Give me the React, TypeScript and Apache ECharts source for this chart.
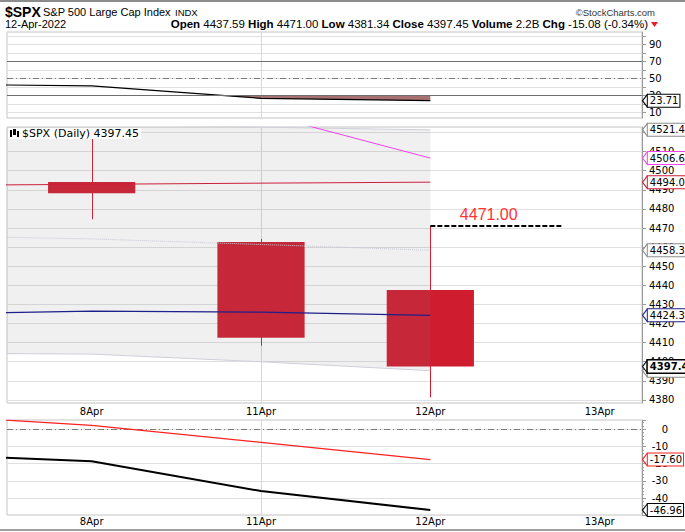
import React, { useEffect, useRef } from 'react';
import * as echarts from 'echarts';

const AXIS_FONT = 'DejaVu Sans';
const HEAD_FONT = 'Liberation Sans';

// sessions on the time axis
const dates = ['8Apr', '11Apr', '12Apr', '13Apr'];
// session index of each overlay point (-1 = 7 Apr, just left of the window)
const overlayIdx = [-1, 0, 1, 2];
// candle sessions and [open, close, low, high]
const candleIdx = [0, 1, 2];
const ohlc = [
  [4494.15, 4488.28, 4474.6, 4520.41],
  [4462.64, 4412.53, 4408.38, 4464.35],
  [4437.59, 4397.45, 4381.34, 4471.0],
];
const sma10 = [4551.8, 4546.32, 4530.03, 4506.61];
const sma200 = [4492.3, 4492.9, 4493.5, 4494.02];
const sma50 = [4425.0, 4426.5, 4426.0, 4424.32];
const bandUpper = [4527.5, 4524.6, 4522.8, 4521.41];
const bandMid = [4466.0, 4464.3, 4461.4, 4458.37];
const bandLower = [4404.5, 4404.0, 4400.0, 4395.33];
const rsi = [43.2, 41.0, 26.5, 23.71];
const rsiUpper = 70;
const rsiMid = 50;
const rsiLower = 30;
const oscRed = [8.4, 2.3, -7.6, -17.6];
const oscBlack = [-14.4, -18.6, -35.9, -46.96];
const highMark = 4471.0;
const highMarkText = '4471.00';

const X_MIN = -0.5;
const X_MAX = 3.25;
const RED = '#d01c2f';

const pairs = (ys: number[]) => overlayIdx.map((x, i) => [x, ys[i]]);

const isMult = (v: number, m: number, off = 0) => {
  const r = Math.round(v);
  if (Math.abs(v - r) > 1e-6) return false;
  return (((r - off) % m) + m) % m === 0;
};

const xAxis = (gridIndex: number, show: boolean, margin: number) => ({
  type: 'value',
  gridIndex,
  min: X_MIN,
  max: X_MAX,
  axisLine: { show: false, onZero: false },
  axisTick: { show: false },
  splitLine: { show: false },
  axisLabel: {
    show,
    margin,
    color: '#000',
    fontFamily: AXIS_FONT,
    fontSize: 10,
    showMinLabel: false,
    showMaxLabel: false,
    formatter: (v: number) => {
      const i = Math.round(v);
      return Math.abs(v - i) < 1e-6 && i >= 0 && i < dates.length ? dates[i] : '';
    },
  },
});

const yAxis = (
  gridIndex: number,
  min: number,
  max: number,
  splitNumber: number,
  fmt: (v: number) => string,
  extra: any = {}
) => ({
  type: 'value',
  gridIndex,
  position: 'right',
  min,
  max,
  splitNumber,
  axisLine: { show: true, onZero: false, lineStyle: { color: '#9a9a9a' } },
  axisTick: { show: true, length: 4, lineStyle: { color: '#9a9a9a' } },
  splitLine: { show: true, lineStyle: { color: '#e0e0e0' } },
  axisLabel: {
    margin: 7,
    color: '#000',
    fontFamily: AXIS_FONT,
    fontSize: 10,
    showMinLabel: false,
    showMaxLabel: false,
    formatter: fmt,
    ...(extra.axisLabel || {}),
  },
  ...(extra.rest || {}),
});

const CHEVRON = 'path://M5,0 L0,6.5 L5,13';
const tag = (x: number, v: number, text: string, border: string, bold = false) => ({
  coord: [x, v],
  symbol: CHEVRON,
  symbolSize: [5, 13],
  symbolOffset: [3, 0],
  itemStyle: { color: '#fff', borderColor: border, borderWidth: 1 },
  label: {
    show: true,
    position: 'right',
    distance: 0,
    formatter: text,
    color: '#000',
    fontFamily: AXIS_FONT,
    fontSize: 10,
    fontWeight: bold ? 'bold' : 'normal',
    backgroundColor: '#fff',
    borderColor: border,
    borderWidth: bold ? 1.5 : 1,
    padding: [1, 1, 0, 2],
    lineHeight: 11,
  },
});

const vLine = (z: number) => ({
  silent: true,
  symbol: ['none', 'none'],
  z,
  label: { show: false },
  lineStyle: { color: '#d8d8d8', width: 1, type: 'solid' },
  data: [{ xAxis: 1 }],
});

function buildOption(): any {
  const lineS = (xi: number, ys: number[], color: string, width = 1, type: any = 'solid', extra: any = {}) => ({
    type: 'line',
    xAxisIndex: xi,
    yAxisIndex: xi,
    data: pairs(ys),
    symbol: 'none',
    silent: true,
    clip: true,
    lineStyle: { color, width, type },
    z: 3,
    ...extra,
  });

  return {
    animation: false,
    backgroundColor: '#fff',
    grid: [
      { left: 7, right: 43, top: 32, height: 86, show: true, borderColor: '#c4c4c4', borderWidth: 1 },
      { left: 7, right: 43, top: 127, height: 276, show: true, borderColor: '#c4c4c4', borderWidth: 1 },
      { left: 7, right: 43, top: 420, height: 95, show: true, borderColor: '#c4c4c4', borderWidth: 1 },
    ],
    xAxis: [xAxis(0, false, 2), xAxis(1, true, 3), xAxis(2, true, 1)],
    yAxis: [
      yAxis(0, 3.3, 104.5, 10, (v) => (isMult(v, 20, 10) ? String(Math.round(v)) : '')),
      yAxis(1, 4378.4, 4522.9, 14, (v) => (isMult(v, 10) ? String(Math.round(v)) : '')),
      yAxis(2, -49.8, 5.4, 5, (v) => (isMult(v, 10) ? String(Math.round(v)) : ''), {
        axisLabel: { align: 'right', margin: 26 },
        rest: { minorTick: { show: true, splitNumber: 5, length: 2, lineStyle: { color: '#9a9a9a' } } },
      }),
    ],
    series: [
      // ---------- top panel ----------
      {
        type: 'custom',
        xAxisIndex: 0,
        yAxisIndex: 0,
        clip: true,
        silent: true,
        data: [[0, rsiLower]],
        encode: { x: 0, y: 1 },
        z: 2,
        renderItem: (params: any, api: any) => {
          if (params.dataIndex !== 0) return null;
          const lvl = rsiLower;
          const curve: number[][] = [];
          for (let i = 0; i < overlayIdx.length; i++) {
            if (i > 0) {
              const a = rsi[i - 1] - lvl;
              const b = rsi[i] - lvl;
              if (a * b < 0) {
                const t = a / (a - b);
                curve.push([overlayIdx[i - 1] + t * (overlayIdx[i] - overlayIdx[i - 1]), lvl]);
              }
            }
            curve.push([overlayIdx[i], Math.min(rsi[i], lvl)]);
          }
          const pts = curve.map((p) => api.coord(p));
          pts.push(api.coord([overlayIdx[overlayIdx.length - 1], lvl]));
          pts.push(api.coord([overlayIdx[0], lvl]));
          return { type: 'polygon', shape: { points: pts }, style: { fill: '#a87070' } };
        },
        markLine: vLine(1),
      },
      lineS(0, rsi, '#000', 1.2, 'solid', {
        markLine: {
          silent: true,
          symbol: ['none', 'none'],
          label: { show: false },
          data: [
            { yAxis: rsiUpper, lineStyle: { color: '#6e6e6e', width: 1, type: 'solid' } },
            { yAxis: rsiMid, lineStyle: { color: '#7a7a7a', width: 1, type: [6, 3, 1, 3] } },
            { yAxis: rsiLower, lineStyle: { color: '#6e6e6e', width: 1, type: 'solid' } },
          ],
        },
        markPoint: { silent: true, data: [tag(X_MAX, rsi[rsi.length - 1], rsi[rsi.length - 1].toFixed(2), '#000')] },
      }),

      // ---------- main panel ----------
      {
        type: 'custom',
        xAxisIndex: 1,
        yAxisIndex: 1,
        silent: true,
        clip: true,
        z: 2,
        data: candleIdx.map((x, i) => [x, ...ohlc[i]]),
        encode: { x: 0, y: [1, 2, 3, 4] },
        renderItem: (params: any, api: any) => {
          const x = api.value(0);
          const o = api.value(1);
          const c = api.value(2);
          const l = api.value(3);
          const h = api.value(4);
          const pO = api.coord([x, o]);
          const pC = api.coord([x, c]);
          const pL = api.coord([x, l]);
          const pH = api.coord([x, h]);
          const w = api.size([0.515, 0])[0];
          const cx = Math.round(pO[0]) + 0.5;
          return {
            type: 'group',
            children: [
              {
                type: 'line',
                shape: { x1: cx, y1: pH[1], x2: cx, y2: pL[1] },
                style: { stroke: RED, lineWidth: 1 },
              },
              {
                type: 'rect',
                shape: { x: pO[0] - w / 2, y: Math.min(pO[1], pC[1]), width: w, height: Math.abs(pC[1] - pO[1]) },
                style: { fill: RED },
              },
            ],
          };
        },
        markLine: vLine(1),
      },
      {
        type: 'custom',
        xAxisIndex: 1,
        yAxisIndex: 1,
        silent: true,
        clip: true,
        z: 2,
        data: [[0, bandMid[1]]],
        encode: { x: 0, y: 1 },
        renderItem: (params: any, api: any) => {
          if (params.dataIndex !== 0) return null;
          const pts: number[][] = [];
          for (let i = 0; i < overlayIdx.length; i++) pts.push(api.coord([overlayIdx[i], bandUpper[i]]));
          for (let i = overlayIdx.length - 1; i >= 0; i--) pts.push(api.coord([overlayIdx[i], bandLower[i]]));
          return { type: 'polygon', shape: { points: pts }, style: { fill: 'rgba(128,128,128,0.12)' } };
        },
      },
      lineS(1, bandUpper, '#cdd0d8', 1),
      lineS(1, bandLower, '#cdd0d8', 1),
      lineS(1, bandMid, '#c4c8d2', 1, 'dotted'),
      lineS(1, sma200, '#cc1f3c', 1),
      lineS(1, sma10, '#f040f0', 1),
      lineS(1, sma50, '#1f1f8c', 1.2, 'solid', {
        markLine: {
          silent: true,
          symbol: ['none', 'none'],
          label: { show: false },
          lineStyle: { color: '#000', width: 2, type: [5, 2] },
          data: [[{ coord: [2, highMark] }, { coord: [2.78, highMark] }]],
        },
        markPoint: {
          silent: true,
          data: [
            {
              coord: [2.345, highMark],
              symbol: 'circle',
              symbolSize: 1,
              itemStyle: { color: 'rgba(0,0,0,0)' },
              label: {
                show: true,
                position: 'top',
                distance: 3,
                formatter: highMarkText,
                color: '#ff3333',
                fontFamily: HEAD_FONT,
                fontSize: 16,
              },
            },
            tag(X_MAX, bandUpper[3], bandUpper[3].toFixed(2), '#8c8c8c'),
            tag(X_MAX, sma10[3], sma10[3].toFixed(2), '#f040f0'),
            tag(X_MAX, sma200[3], sma200[3].toFixed(2), '#cc1f3c'),
            tag(X_MAX, bandMid[3], bandMid[3].toFixed(2), '#8c8c8c'),
            tag(X_MAX, sma50[3], sma50[3].toFixed(2), '#1f1f8c'),
            tag(X_MAX, bandLower[3], bandLower[3].toFixed(2), '#8c8c8c'),
            tag(X_MAX, ohlc[2][1], ohlc[2][1].toFixed(2), '#000', true),
          ],
        },
      }),

      // ---------- bottom panel ----------
      lineS(2, oscRed, '#ff2020', 1.2, 'solid', {
        markLine: {
          silent: true,
          symbol: ['none', 'none'],
          label: { show: false },
          z: 1,
          data: [
            { xAxis: 1, lineStyle: { color: '#d8d8d8', width: 1, type: 'solid' } },
            { yAxis: 0, lineStyle: { color: '#7a7a7a', width: 1, type: [6, 3, 1, 3] } },
          ],
        },
      }),
      lineS(2, oscBlack, '#000', 2, 'solid', {
        markPoint: {
          silent: true,
          data: [
            tag(X_MAX, oscRed[3], oscRed[3].toFixed(2), '#ff2020'),
            tag(X_MAX, oscBlack[3], oscBlack[3].toFixed(2), '#000'),
          ],
        },
      }),
    ],
    graphic: [
      { type: 'rect', z: 100, shape: { x: 0, y: 0, width: 685, height: 2 }, style: { fill: '#8c8c8c' } },
      { type: 'rect', z: 100, shape: { x: 0, y: 529, width: 685, height: 2 }, style: { fill: '#a0a0a0' } },
      {
        type: 'text', z: 100, x: 5, y: 11.5,
        style: { text: '$SPX', fontFamily: HEAD_FONT, fontSize: 14, fontWeight: 'bold', fill: '#000', verticalAlign: 'middle' },
      },
      {
        type: 'text', z: 100, x: 43, y: 12,
        style: { text: 'S&P 500 Large Cap Index', fontFamily: HEAD_FONT, fontSize: 11, fill: '#000', verticalAlign: 'middle' },
      },
      {
        type: 'text', z: 100, x: 175, y: 12.5,
        style: { text: 'INDX', fontFamily: HEAD_FONT, fontSize: 9.5, fill: '#000', verticalAlign: 'middle' },
      },
      {
        type: 'text', z: 100, x: 655, y: 12,
        style: { text: '©StockCharts.com', fontFamily: HEAD_FONT, fontSize: 9.5, fill: '#333', align: 'right', verticalAlign: 'middle' },
      },
      {
        type: 'text', z: 100, x: 5, y: 24,
        style: { text: '12-Apr-2022', fontFamily: HEAD_FONT, fontSize: 11, fill: '#000', verticalAlign: 'middle' },
      },
      {
        type: 'text', z: 100, x: 648, y: 24,
        style: {
          text:
            '{b|Open} {n|4437.59} {b|High} {n|4471.00} {b|Low} {n|4381.34} {b|Close} {n|4397.45} {b|Volume} {n|2.2B} {b|Chg} {n|-15.08 (-0.34%)}',
          align: 'right',
          verticalAlign: 'middle',
          rich: {
            b: { fontFamily: HEAD_FONT, fontSize: 11.5, fontWeight: 'bold', fill: '#000' },
            n: { fontFamily: HEAD_FONT, fontSize: 11.5, fill: '#000' },
          },
          fontFamily: HEAD_FONT,
          fontSize: 11.5,
        },
      },
      { type: 'polygon', z: 100, shape: { points: [[651, 22], [658, 22], [654.5, 27]] }, style: { fill: '#e0202a' } },
      // panel legend
      { type: 'rect', z: 100, shape: { x: 8, y: 128, width: 133, height: 11 }, style: { fill: '#fff' } },
      { type: 'rect', z: 101, shape: { x: 10, y: 130, width: 2, height: 7 }, style: { fill: '#000' } },
      { type: 'rect', z: 101, shape: { x: 13, y: 129, width: 3, height: 6 }, style: { fill: '#000' } },
      { type: 'rect', z: 101, shape: { x: 17, y: 131, width: 2, height: 6 }, style: { fill: '#000' } },
      {
        type: 'text', z: 101, x: 22, y: 133.5,
        style: { text: '$SPX (Daily) 4397.45', fontFamily: AXIS_FONT, fontSize: 11, fill: '#000', verticalAlign: 'middle' },
      },
    ],
  };
}

export default function App() {
  const ref = useRef<HTMLDivElement>(null);
  useEffect(() => {
    if (!ref.current) return;
    const chart = echarts.init(ref.current, null, { renderer: 'svg' });
    chart.setOption(buildOption());
    return () => chart.dispose();
  }, []);
  return (
    <div
      ref={ref}
      style={{ position: 'absolute', left: 0, top: 0, width: 685, height: 532, background: '#fff' }}
    />
  );
}
